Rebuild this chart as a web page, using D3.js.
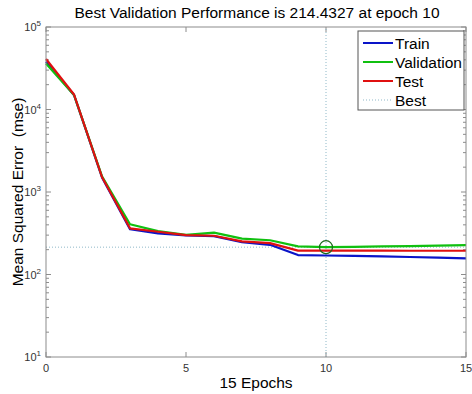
<!DOCTYPE html>
<html>
<head>
<meta charset="utf-8">
<script src="https://cdn.jsdelivr.net/npm/d3@7"></script>
<style>
body{margin:0;background:#fff;}
text{font-family:"Liberation Sans",Arial,sans-serif;white-space:pre;}
</style>
</head>
<body>
<svg id="perf"></svg>
<script>
var epochs=[0,1,2,3,4,5,6,7,8,9,10,11,12,13,14,15];
var train=[38000,15000,1500,355,315,298,292,246,229,172,170,168,166,163,160,157];
var validation=[36000,15000,1550,407,335,302,322,272,260,219,214.4327,216,219,221,224,227];
var test=[41000,15200,1520,363,330,300,295,252,240,195,195,195,195,194,194,194];
var bestEpoch=10;
var bestValue=214.4327;
var xTicks=[0,5,10,15];
var yTicks=[10,100,1000,10000,100000];

var w=472,h=394;
var margin={left:46,right:6,top:27,bottom:37};
var svg=d3.select("#perf").attr("width",w).attr("height",h);

var xScale=d3.scaleLinear().domain([0,15]).range([margin.left,w-margin.right]);
var yScale=d3.scaleLog().domain([10,100000]).range([h-margin.bottom,margin.top]);

var x0=xScale.range()[0],x1=xScale.range()[1];
var y0=yScale.range()[0],y1=yScale.range()[1];

// minor ticks for log axis
var minor=[];
for(var p=1;p<5;p++){for(var k=2;k<10;k++){minor.push(k*Math.pow(10,p));}}

var axisColor="#8c8c8c";
var g=svg.append("g");
minor.forEach(function(v){
  g.append("line").attr("x1",x0).attr("x2",x0+3).attr("y1",yScale(v)).attr("y2",yScale(v)).attr("stroke",axisColor);
  g.append("line").attr("x1",x1).attr("x2",x1-3).attr("y1",yScale(v)).attr("y2",yScale(v)).attr("stroke",axisColor);
});
yTicks.forEach(function(v){
  g.append("line").attr("x1",x0).attr("x2",x0+5).attr("y1",yScale(v)).attr("y2",yScale(v)).attr("stroke",axisColor);
  g.append("line").attr("x1",x1).attr("x2",x1-5).attr("y1",yScale(v)).attr("y2",yScale(v)).attr("stroke",axisColor);
  var t=g.append("text").attr("x",x0-5).attr("y",yScale(v)+4).attr("text-anchor","end").attr("font-size",11).attr("fill","#333");
  t.append("tspan").text("10");
  t.append("tspan").attr("dy",-5).attr("font-size",8).text(Math.round(Math.log10(v)));
});
xTicks.forEach(function(v){
  g.append("line").attr("x1",xScale(v)).attr("x2",xScale(v)).attr("y1",y0).attr("y2",y0-5).attr("stroke",axisColor);
  g.append("line").attr("x1",xScale(v)).attr("x2",xScale(v)).attr("y1",y1).attr("y2",y1+5).attr("stroke",axisColor);
  g.append("text").attr("x",xScale(v)).attr("y",y0+15).attr("text-anchor","middle").attr("font-size",11).attr("fill","#333").text(v);
});

// best markers
var bestColor="#8fb8c8";
svg.append("line").attr("x1",xScale(bestEpoch)).attr("x2",xScale(bestEpoch)).attr("y1",y0).attr("y2",y1)
   .attr("stroke",bestColor).attr("stroke-dasharray","1,2");
svg.append("line").attr("x1",x0).attr("x2",x1).attr("y1",yScale(bestValue)).attr("y2",yScale(bestValue))
   .attr("stroke",bestColor).attr("stroke-dasharray","1,2");

var line=d3.line()
  .x(function(d,i){return xScale(epochs[i]);})
  .y(function(d){return yScale(d);});
var series=[{name:"Train",data:train,color:"#0a14c8"},
            {name:"Validation",data:validation,color:"#10c010"},
            {name:"Test",data:test,color:"#e01010"}];
series.forEach(function(s){
  svg.append("path").datum(s.data).attr("d",line).attr("fill","none")
     .attr("stroke",s.color).attr("stroke-width",2.2).attr("stroke-linejoin","round");
});

svg.append("circle").attr("cx",xScale(bestEpoch)).attr("cy",yScale(bestValue)).attr("r",6.5)
   .attr("fill","none").attr("stroke","#1a6a1a").attr("stroke-width",1.2);

// frame
svg.append("rect").attr("x",x0).attr("y",y1).attr("width",x1-x0).attr("height",y0-y1)
   .attr("fill","none").attr("stroke",axisColor);

// legend
var lg=svg.append("g");
lg.append("rect").attr("x",358).attr("y",31).attr("width",106).attr("height",79)
  .attr("fill","#fff").attr("stroke","#555");
var entries=series.concat([{name:"Best",color:bestColor,dash:true}]);
entries.forEach(function(e,i){
  var yy=43+i*19;
  lg.append("line").attr("x1",363).attr("x2",393).attr("y1",yy).attr("y2",yy)
    .attr("stroke",e.color).attr("stroke-width",e.dash?1:2)
    .attr("stroke-dasharray",e.dash?"1,2":null);
  lg.append("text").attr("x",395).attr("y",yy+5.5).attr("font-size",15.5).text(e.name);
});

svg.append("text").attr("x",257).attr("y",18).attr("text-anchor","middle").attr("font-size",15.5)
   .text("Best Validation Performance is "+bestValue+" at epoch "+bestEpoch);
svg.append("text").attr("x",256).attr("y",388).attr("text-anchor","middle").attr("font-size",15.5)
   .text("15 Epochs");
svg.append("text").attr("transform","translate(23,"+((y0+y1)/2)+") rotate(-90)")
   .attr("text-anchor","middle").attr("font-size",15.5).text("Mean Squared Error  (mse)");
</script>
</body>
</html>
